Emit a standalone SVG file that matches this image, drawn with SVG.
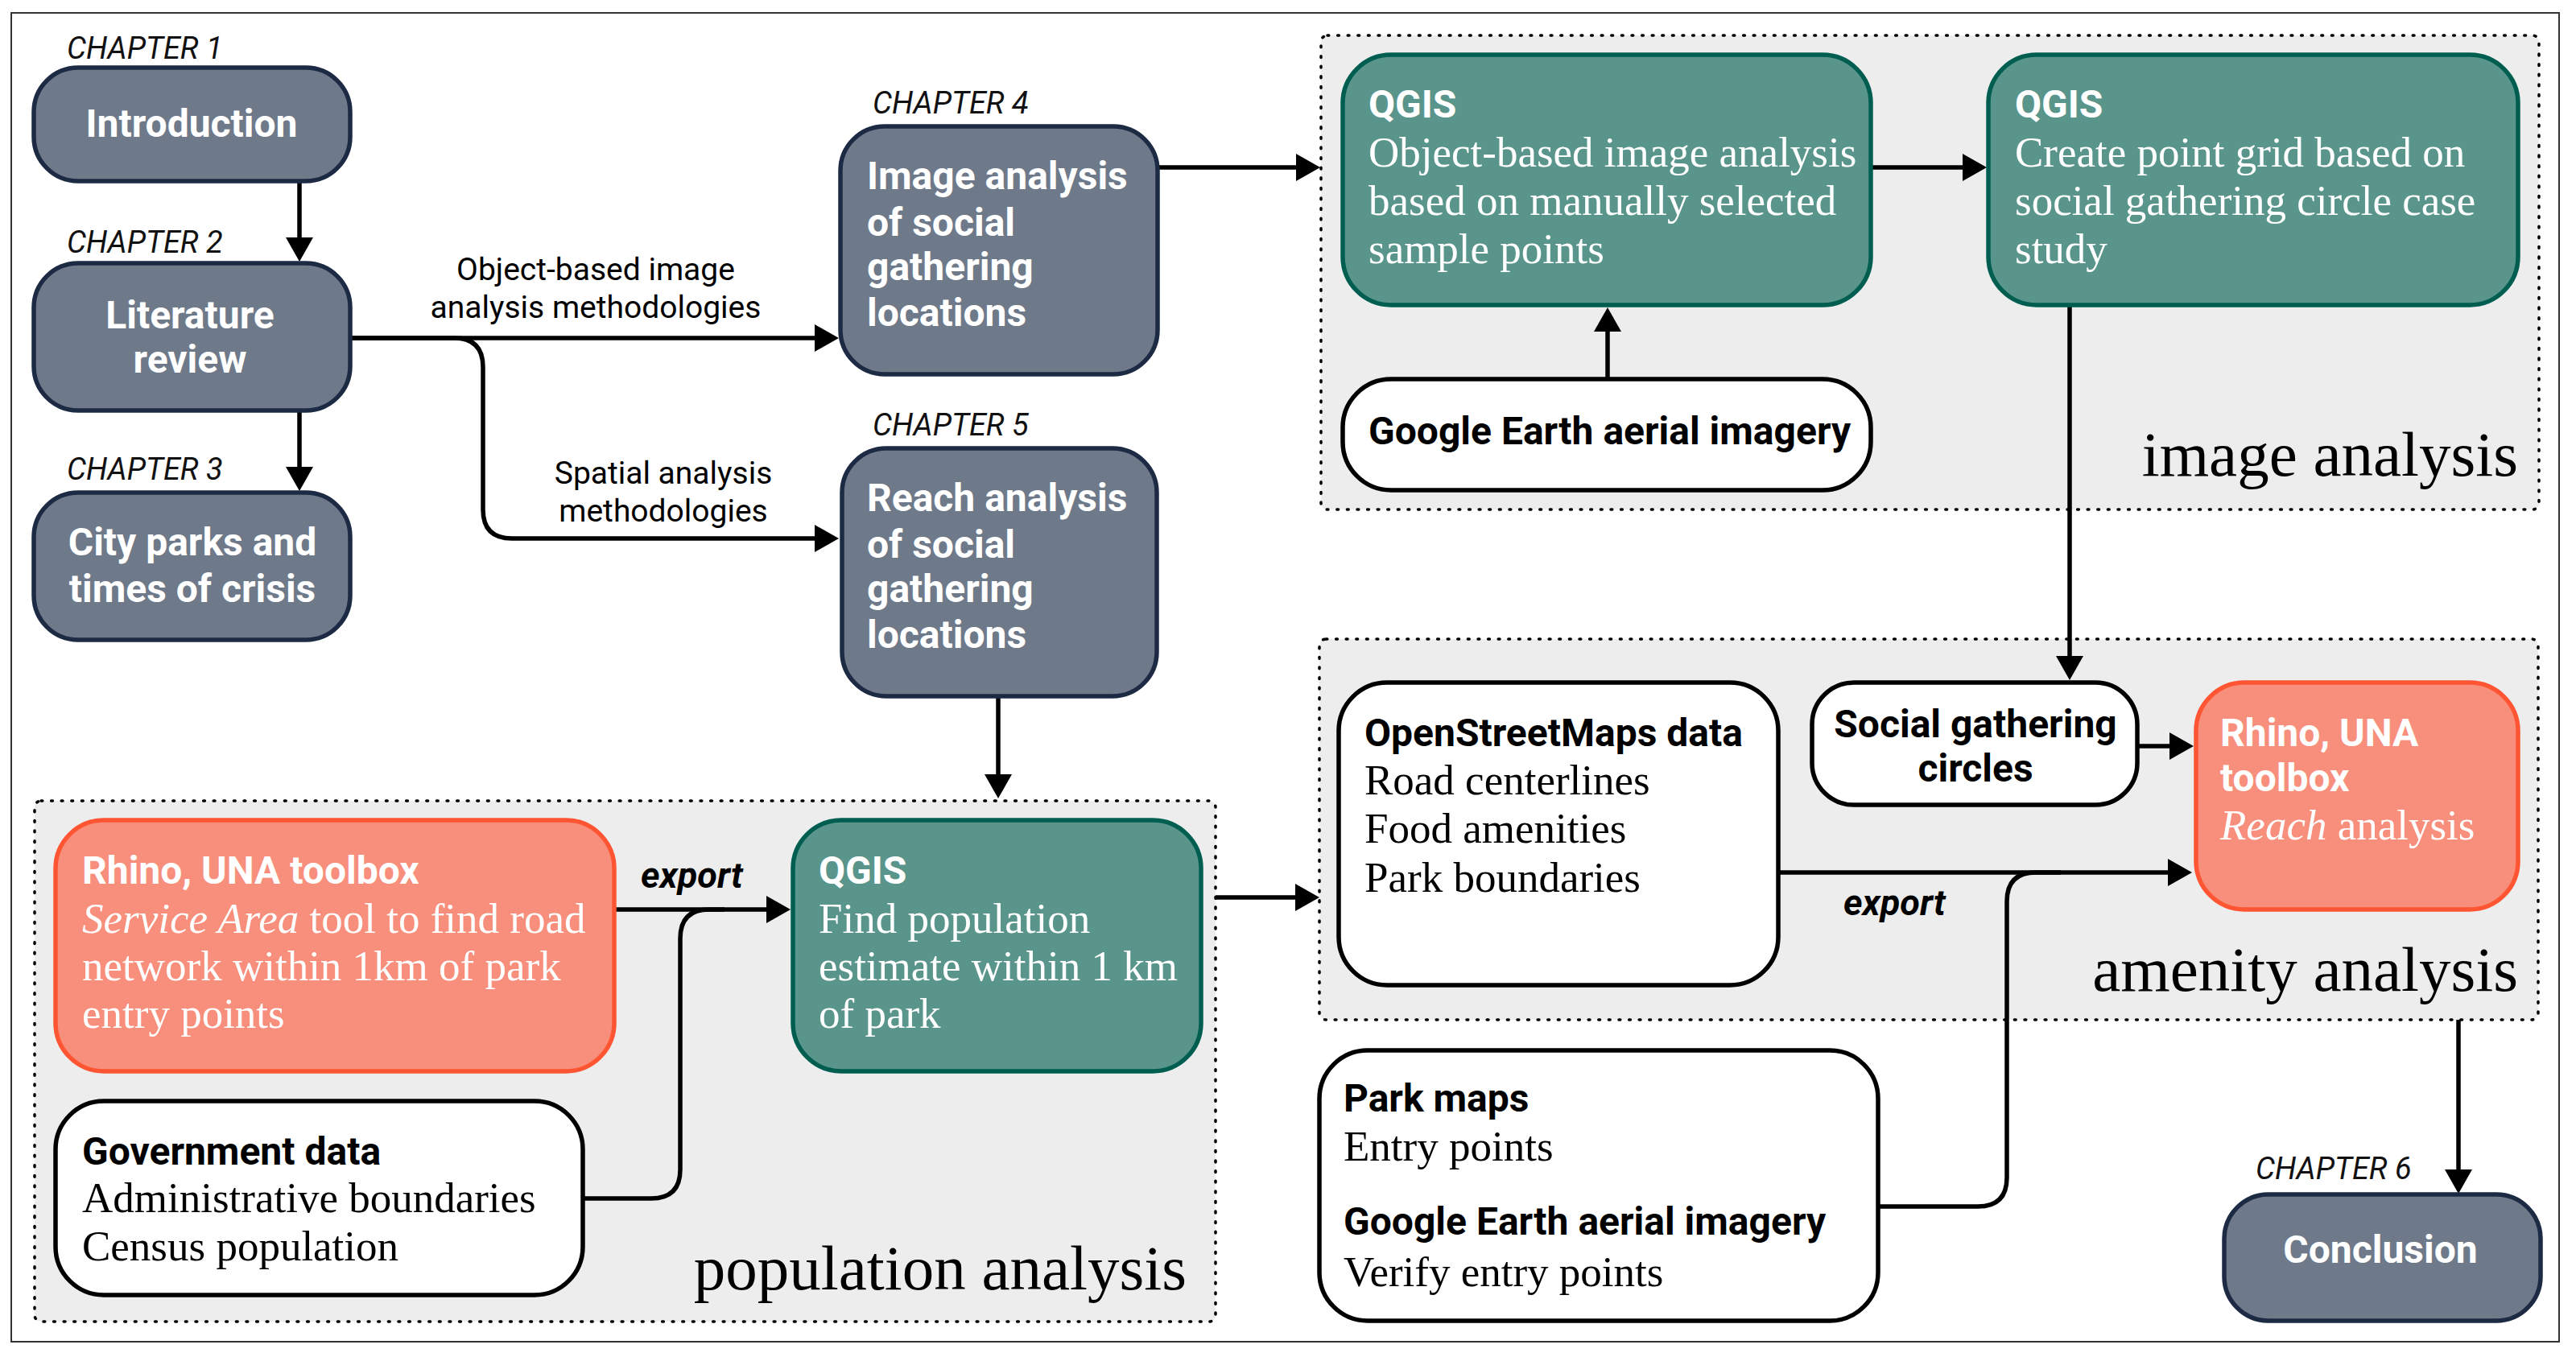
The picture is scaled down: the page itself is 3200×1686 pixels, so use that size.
<svg xmlns="http://www.w3.org/2000/svg" width="3200" height="1686" viewBox="0 0 3200 1686">
<defs>
<marker id="ah" markerUnits="userSpaceOnUse" viewBox="0 0 30 34" markerWidth="30" markerHeight="34" refX="2" refY="17" orient="auto">
<path d="M0,0 L30,17 L0,34 z" fill="#000"/>
</marker>
<style>
.panel{fill:#EDEDED;stroke:#000;stroke-width:3.5;stroke-dasharray:1.8 10.8;stroke-linecap:round}
.gray{fill:#6E7A8A;stroke:#1C2A44;stroke-width:5.5}
.teal{fill:#5A958C;stroke:#005E50;stroke-width:5.5}
.salm{fill:#F78F7C;stroke:#FF5533;stroke-width:5.5}
.wht{fill:#FFFFFF;stroke:#000;stroke-width:5.5}
.con{fill:none;stroke:#000;stroke-width:5.5}
.arr{marker-end:url(#ah)}
.ch{font-family:Roboto,"Liberation Sans",sans-serif;font-style:italic;font-size:38px;fill:#111}
.hb{font-family:Roboto,"Liberation Sans",sans-serif;font-weight:700;font-size:48px}
.wt{fill:#FFFFFF}
.bk{fill:#000}
.sr{font-family:"Liberation Serif",serif;font-size:53px}
.lab{font-family:Roboto,"Liberation Sans",sans-serif;font-size:39px;fill:#000;text-anchor:middle}
.exp{font-family:Roboto,"Liberation Sans",sans-serif;font-weight:700;font-style:italic;font-size:45px;fill:#000}
.big{font-family:"Liberation Serif",serif;font-size:79px;fill:#000;text-anchor:end}
.mid{text-anchor:middle}
</style>
</defs>
<rect x="0" y="0" width="3200" height="1686" fill="#FFFFFF"/>
<rect x="14" y="16" width="3165" height="1651" fill="none" stroke="#333" stroke-width="2"/>

<g id="panel-image">
<rect class="panel" x="1641" y="44" width="1513" height="589" rx="8"/>
<text class="big" x="3128" y="591">image analysis</text>
</g>
<g id="panel-population">
<rect class="panel" x="43" y="995" width="1467" height="647" rx="8"/>
<text class="big" x="1474" y="1602">population analysis</text>
</g>
<g id="panel-amenity">
<rect class="panel" x="1639" y="794" width="1514" height="473" rx="8"/>
<text class="big" x="3128" y="1231">amenity analysis</text>
</g>

<g id="connectors">
<path class="con arr" d="M372 225 V297"/>
<path class="con arr" d="M372 510 V582"/>
<path class="con arr" d="M435 420 H1014"/>
<path class="con arr" d="M435 420 H564 Q600 420 600 456 V633 Q600 669 636 669 H1014"/>
<path class="con arr" d="M1438 208 H1612"/>
<path class="con arr" d="M2324 208 H2440"/>
<path class="con arr" d="M1997 471 V410"/>
<path class="con arr" d="M2571 379 V817"/>
<path class="con arr" d="M1240 865 V964"/>
<path class="con arr" d="M763 1130 H954"/>
<path class="con" d="M724 1489 H809 Q845 1489 845 1453 V1166 Q845 1130 881 1130 H900"/>
<path class="con arr" d="M1510 1115 H1611"/>
<path class="con arr" d="M2655 927 H2697"/>
<path class="con arr" d="M2209 1084 H2695"/>
<path class="con" d="M2333 1499 H2457 Q2493 1499 2493 1463 V1120 Q2493 1084 2529 1084 H2560"/>
<path class="con arr" d="M3054 1267 V1455"/>
<text class="lab" x="740" y="348">Object-based image</text>
<text class="lab" x="740" y="395">analysis methodologies</text>
<text class="lab" x="824" y="601">Spatial analysis</text>
<text class="lab" x="824" y="648">methodologies</text>
<text class="exp" x="796" y="1103">export</text>
<text class="exp" x="2290" y="1137">export</text>
</g>

<g id="ch1">
<text class="ch" x="83" y="73">CHAPTER 1</text>
<rect class="gray" x="42" y="84" width="393" height="141" rx="55"/>
<text class="hb wt mid" x="238" y="170">Introduction</text>
</g>
<g id="ch2">
<text class="ch" x="83" y="314">CHAPTER 2</text>
<rect class="gray" x="42" y="327" width="393" height="183" rx="55"/>
<text class="hb wt mid" x="236" y="408">Literature</text>
<text class="hb wt mid" x="236" y="463">review</text>
</g>
<g id="ch3">
<text class="ch" x="83" y="596">CHAPTER 3</text>
<rect class="gray" x="42" y="612" width="393" height="183" rx="55"/>
<text class="hb wt mid" x="239" y="690">City parks and</text>
<text class="hb wt mid" x="239" y="748">times of crisis</text>
</g>
<g id="ch4">
<text class="ch" x="1084" y="141">CHAPTER 4</text>
<rect class="gray" x="1044" y="157" width="394" height="308" rx="55"/>
<text class="hb wt" x="1077" y="235">Image analysis</text>
<text class="hb wt" x="1077" y="293">of social</text>
<text class="hb wt" x="1077" y="348">gathering</text>
<text class="hb wt" x="1077" y="405">locations</text>
</g>
<g id="ch5">
<text class="ch" x="1084" y="541">CHAPTER 5</text>
<rect class="gray" x="1046" y="557" width="391" height="308" rx="55"/>
<text class="hb wt" x="1077" y="635">Reach analysis</text>
<text class="hb wt" x="1077" y="693">of social</text>
<text class="hb wt" x="1077" y="748">gathering</text>
<text class="hb wt" x="1077" y="805">locations</text>
</g>
<g id="ch6">
<text class="ch" x="2802" y="1465">CHAPTER 6</text>
<rect class="gray" x="2763" y="1484" width="393" height="157" rx="55"/>
<text class="hb wt mid" x="2957" y="1569">Conclusion</text>
</g>

<g id="qgis-obia">
<rect class="teal" x="1668" y="68" width="656" height="311" rx="60"/>
<text class="hb wt" x="1700" y="146">QGIS</text>
<text class="sr wt" x="1700" y="207">Object-based image analysis</text>
<text class="sr wt" x="1700" y="267">based on manually selected</text>
<text class="sr wt" x="1700" y="327">sample points</text>
</g>
<g id="qgis-grid">
<rect class="teal" x="2470" y="68" width="658" height="311" rx="60"/>
<text class="hb wt" x="2503" y="146">QGIS</text>
<text class="sr wt" x="2503" y="207">Create point grid based on</text>
<text class="sr wt" x="2503" y="267">social gathering circle case</text>
<text class="sr wt" x="2503" y="327">study</text>
</g>
<g id="google-earth-1">
<rect class="wht" x="1668" y="471" width="656" height="138" rx="60"/>
<text class="hb bk" x="1700" y="552">Google Earth aerial imagery</text>
</g>

<g id="rhino-service">
<rect class="salm" x="69" y="1019" width="694" height="312" rx="60"/>
<text class="hb wt" x="102" y="1098">Rhino, UNA toolbox</text>
<text class="sr wt" x="102" y="1159"><tspan font-style="italic">Service Area</tspan> tool to find road</text>
<text class="sr wt" x="102" y="1218">network within 1km of park</text>
<text class="sr wt" x="102" y="1277">entry points</text>
</g>
<g id="qgis-pop">
<rect class="teal" x="985" y="1019" width="507" height="312" rx="60"/>
<text class="hb wt" x="1017" y="1098">QGIS</text>
<text class="sr wt" x="1017" y="1159">Find population</text>
<text class="sr wt" x="1017" y="1218">estimate within 1 km</text>
<text class="sr wt" x="1017" y="1277">of park</text>
</g>
<g id="gov-data">
<rect class="wht" x="69" y="1368" width="655" height="241" rx="60"/>
<text class="hb bk" x="102" y="1447">Government data</text>
<text class="sr bk" x="102" y="1506">Administrative boundaries</text>
<text class="sr bk" x="102" y="1566">Census population</text>
</g>

<g id="osm">
<rect class="wht" x="1663" y="848" width="546" height="376" rx="60"/>
<text class="hb bk" x="1695" y="927">OpenStreetMaps data</text>
<text class="sr bk" x="1695" y="987">Road centerlines</text>
<text class="sr bk" x="1695" y="1047">Food amenities</text>
<text class="sr bk" x="1695" y="1108">Park boundaries</text>
</g>
<g id="social-circles">
<rect class="wht" x="2251" y="848" width="404" height="152" rx="52"/>
<text class="hb bk mid" x="2454" y="916">Social gathering</text>
<text class="hb bk mid" x="2454" y="971">circles</text>
</g>
<g id="rhino-reach">
<rect class="salm" x="2728" y="848" width="400" height="282" rx="60"/>
<text class="hb wt" x="2758" y="927">Rhino, UNA</text>
<text class="hb wt" x="2758" y="983">toolbox</text>
<text class="sr wt" x="2758" y="1043"><tspan font-style="italic">Reach</tspan> analysis</text>
</g>
<g id="park-maps">
<rect class="wht" x="1639" y="1305" width="694" height="336" rx="60"/>
<text class="hb bk" x="1669" y="1381">Park maps</text>
<text class="sr bk" x="1669" y="1442">Entry points</text>
<text class="hb bk" x="1669" y="1534">Google Earth aerial imagery</text>
<text class="sr bk" x="1669" y="1598">Verify entry points</text>
</g>
</svg>
